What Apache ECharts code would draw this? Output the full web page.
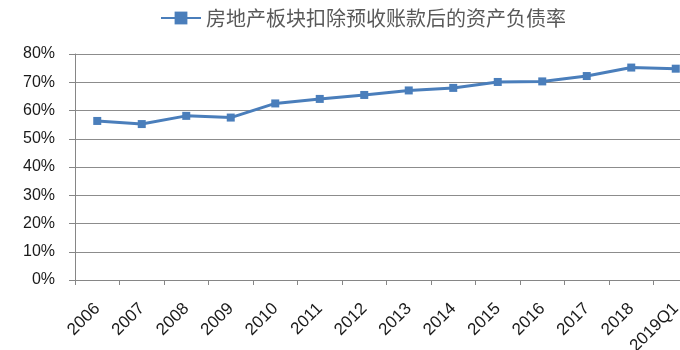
<!DOCTYPE html>
<html><head><meta charset="utf-8">
<script src="https://cdn.jsdelivr.net/npm/echarts@6/dist/echarts.min.js"></script>
<style>html,body{margin:0;padding:0;background:#fff}#c{width:680px;height:350px}</style>
</head><body><div id="c"></div>
<script>
const categories = ['2006','2007','2008','2009','2010','2011','2012','2013','2014','2015','2016','2017','2018','2019Q1'];
const seriesName = '房地产板块扣除预收账款后的资产负债率';
const ratioValues = [56.3, 55.2, 58.1, 57.5, 62.5, 64.1, 65.5, 67.1, 68.0, 70.1, 70.3, 72.2, 75.2, 74.8];
const yTicks = { min: 0, max: 80, interval: 10 };

const chart = echarts.init(document.getElementById('c'), null, {renderer: 'canvas'});
chart.setOption({
  animation: false,
  backgroundColor: '#fff',
  legend: {
    left: 155, top: 3,
    itemWidth: 40, itemHeight: 16, itemGap: 10,
    textStyle: { fontFamily: '"Noto Sans CJK SC"', fontSize: 20, color: '#595959' },
    data: [seriesName]
  },
  grid: { left: 75, width: 623, top: 54, height: 226, containLabel: false, outerBoundsMode: 'none' },
  xAxis: {
    type: 'category', data: categories, boundaryGap: true,
    axisLine: { lineStyle: { color: '#868686', width: 1 } },
    axisTick: { show: true, length: 5, alignWithLabel: false, lineStyle: { color: '#868686' } },
    axisLabel: { rotate: 45, margin: 26, interval: 0, fontFamily: '"Liberation Sans", Arial', fontSize: 17, color: '#1a1a1a' }
  },
  yAxis: {
    type: 'value', min: yTicks.min, max: yTicks.max, interval: yTicks.interval,
    axisLine: { show: true, lineStyle: { color: '#868686', width: 1 } },
    axisTick: { show: true, length: 6, lineStyle: { color: '#868686' } },
    splitLine: { show: true, lineStyle: { color: '#8c8c8c', width: 1 } },
    axisLabel: { formatter: '{value}%', margin: 20, fontFamily: '"Liberation Sans", Arial', fontSize: 16, color: '#1a1a1a' }
  },
  series: [{
    name: seriesName, type: 'line', data: ratioValues,
    symbol: 'rect', symbolSize: 8,
    lineStyle: { color: '#4A7EBB', width: 3 },
    itemStyle: { color: '#4A7EBB' },
    clip: false
  }]
});
</script></body></html>
